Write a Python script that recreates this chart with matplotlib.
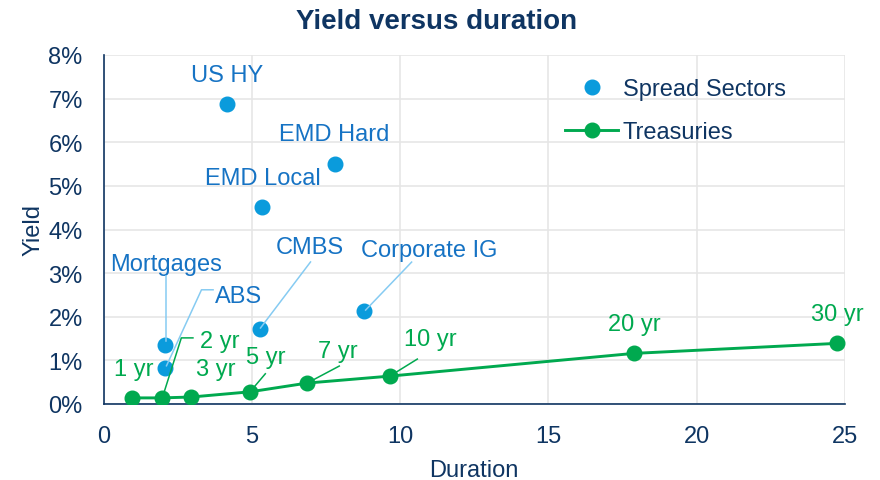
import numpy as np
import matplotlib
matplotlib.use("Agg")
import matplotlib.pyplot as plt
from matplotlib.ticker import FuncFormatter, MultipleLocator
from matplotlib.lines import Line2D
from matplotlib.transforms import IdentityTransform

plt.rcParams['font.family'] = ['Liberation Sans', 'DejaVu Sans']

# ---- data ----
sector_names = ["US HY", "EMD Hard", "EMD Local", "CMBS", "Corporate IG", "Mortgages", "ABS"]
sector_duration = [4.18, 7.79, 5.36, 5.26, 8.77, 2.09, 2.09]
sector_yield = [6.88, 5.50, 4.52, 1.72, 2.13, 1.35, 0.83]

tsy_names = ["1 yr", "2 yr", "3 yr", "5 yr", "7 yr", "10 yr", "20 yr", "30 yr"]
tsy_duration = [0.96, 1.97, 2.96, 4.95, 6.87, 9.67, 17.88, 24.74]
tsy_yield = [0.14, 0.14, 0.16, 0.28, 0.48, 0.64, 1.16, 1.39]

# ---- styling ----
C_DOT = "#0A9BDC"
C_SECT_TXT = "#1673C4"
C_LEADER = "#86CBF2"
C_GREEN = "#00A94F"
C_NAVY = "#0F3562"
FS = 17

# label offsets (pixels, y up) and leader-line vertices relative to each point
sector_label_off = {
    "US HY": (0, 29), "EMD Hard": (0, 30), "EMD Local": (0, 29),
    "CMBS": (50, 82), "Corporate IG": (66, 61), "Mortgages": (1, 81), "ABS": (73, 72),
}
sector_leaders = {
    "Mortgages": [(1, 4), (1, 69)],
    "ABS": [(1, 2), (36, 78), (47.6, 78)],
    "CMBS": [(1, 1), (51, 67)],
    "Corporate IG": [(2, 1), (48, 49)],
}
tsy_label_off = {
    "1 yr": (2, 29), "2 yr": (58, 57), "3 yr": (24, 28), "5 yr": (15, 35),
    "7 yr": (31, 32), "10 yr": (40, 37), "20 yr": (0, 29), "30 yr": (0, 29),
}
tsy_leaders = {
    "2 yr": [(1, 2), (19.4, 60), (31, 60)],
    "5 yr": [(4, 5), (15, 18)],
    "7 yr": [(5.6, 3), (32, 17)],
    "10 yr": [(6, 4), (27, 17)],
}

W, H, DPI = 880, 481, 100
fig = plt.figure(figsize=(W / DPI, H / DPI), dpi=DPI)
ax = fig.add_axes([103.5 / W, 1 - 405 / H, (845 - 103.5) / W, (405 - 56) / H])

ax.set_xlim(0, 25)
ax.set_ylim(0, 8)
ax.xaxis.set_major_locator(MultipleLocator(5))
ax.yaxis.set_major_locator(MultipleLocator(1))
ax.yaxis.set_major_formatter(FuncFormatter(lambda v, p: f"{int(round(v))}%"))
ax.grid(True, color="#E6E6E6", linewidth=1.2)
ax.set_axisbelow(True)
for s in ["top", "right"]:
    ax.spines[s].set_visible(False)
for s in ["left", "bottom"]:
    ax.spines[s].set_color(C_NAVY)
    ax.spines[s].set_linewidth(1.2)
ax.tick_params(length=0, labelsize=FS, labelcolor=C_NAVY)
ax.tick_params(axis="y", pad=15)
ax.tick_params(axis="x", pad=15)
ax.set_xlabel("Duration", fontsize=FS, color=C_NAVY, labelpad=9)
ax.set_ylabel("Yield", fontsize=FS, color=C_NAVY, labelpad=3)
fig.text(437 / W, 1 - 22 / H, "Yield versus duration", fontsize=20, fontweight="bold",
         color=C_NAVY, ha="center", va="center")

ax.plot(sector_duration, sector_yield, linestyle="none", marker="o", markersize=10.5,
        color=C_DOT, label="Spread Sectors", zorder=4)
ax.plot(tsy_duration, tsy_yield, linestyle="-", linewidth=2.1, marker="o", markersize=10.5,
        color=C_GREEN, label="Treasuries", zorder=4)


def leader(x, y, verts, color):
    px, py = ax.transData.transform((x, y))
    xs = [px + dx for dx, dy in verts]
    ys = [py + dy for dx, dy in verts]
    fig.add_artist(Line2D(xs, ys, transform=IdentityTransform(), color=color,
                          linewidth=1.1, zorder=2))


def label(x, y, text, off, color):
    ax.annotate(text, (x, y), xytext=(off[0] * 0.72, off[1] * 0.72), textcoords="offset points",
                ha="center", va="center", fontsize=FS, color=color, zorder=5)


fig.canvas.draw()
for n, x, y in zip(sector_names, sector_duration, sector_yield):
    label(x, y, n, sector_label_off[n], C_SECT_TXT)
    if n in sector_leaders:
        leader(x, y, sector_leaders[n], C_LEADER)
for n, x, y in zip(tsy_names, tsy_duration, tsy_yield):
    label(x, y, n, tsy_label_off[n], C_GREEN)
    if n in tsy_leaders:
        leader(x, y, tsy_leaders[n], C_GREEN)

leg = ax.legend(loc="upper left", bbox_to_anchor=((565 - 103.5) / 741.5, (405 - 79) / 349),
                frameon=False, fontsize=FS, borderpad=0, borderaxespad=0,
                handlelength=2.25, handletextpad=0.2, labelspacing=0.9, labelcolor=C_NAVY)

fig.savefig("out.png", dpi=DPI)
